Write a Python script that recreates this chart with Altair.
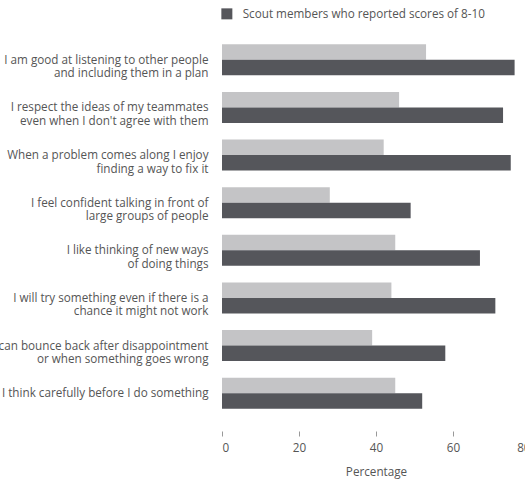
import altair as alt
import pandas as pd

# Survey statements, each split over up to two label lines ("|" separates lines)
statements = [
    "I am good at listening to other people|and including them in a plan",
    "I respect the ideas of my teammates|even when I don't agree with them",
    "When a problem comes along I enjoy|finding a way to fix it",
    "I feel confident talking in front of|large groups of people",
    "I like thinking of new ways|of doing things",
    "I will try something even if there is a|chance it might not work",
    "I can bounce back after disappointment|or when something goes wrong",
    "I think carefully before I do something",
]

series_names = [
    "Non-members who reported scores of 8-10",
    "Scout members who reported scores of 8-10",
]
non_members = [53, 46, 42, 28, 45, 44, 39, 45]
scout_members = [76, 73, 75, 49, 67, 71, 58, 52]

x_ticks = [0, 20, 40, 60, 80]

rows = []
for s, a, b in zip(statements, non_members, scout_members):
    rows.append({"statement": s, "group": series_names[0], "pct": a})
    rows.append({"statement": s, "group": series_names[1], "pct": b})
df = pd.DataFrame(rows)

FONT = "Open Sans"
FS = 11.7
TEXT = "#555555"

chart = (
    alt.Chart(df)
    .mark_bar()
    .encode(
        x=alt.X(
            "pct:Q",
            scale=alt.Scale(domain=[0, 80], nice=False),
            axis=alt.Axis(
                title="Percentage",
                values=x_ticks,
                domain=False,
                grid=False,
                offset=14,
                tickSize=5,
                tickColor="#999999",
                labelPadding=6,
                labelFontSize=FS,
                labelColor=TEXT,
                labelFont=FONT,
                titleFont=FONT,
                titleFontSize=FS,
                titleFontWeight="normal",
                titleColor=TEXT,
                titlePadding=13,
            ),
        ),
        y=alt.Y(
            "statement:N",
            sort=statements,
            scale=alt.Scale(paddingInner=0.35, paddingOuter=0.175),
            axis=alt.Axis(
                title=None,
                domain=False,
                ticks=False,
                labelPadding=14,
                labelLimit=0,
                labelFontSize=FS,
                labelColor=TEXT,
                labelFont=FONT,
                labelLineHeight=13.5,
                labelExpr="split(datum.label, '|')",
            ),
        ),
        yOffset=alt.YOffset("group:N", sort=series_names),
        color=alt.Color(
            "group:N",
            sort=series_names,
            scale=alt.Scale(domain=series_names, range=["#c4c4c6", "#55565b"]),
            legend=alt.Legend(
                title=None,
                values=[series_names[1]],
                orient="none",
                legendX=-1,
                legendY=-28,
                symbolType="square",
                symbolSize=121,
                symbolStrokeWidth=0,
                labelFontSize=FS,
                labelColor=TEXT,
                labelFont=FONT,
                labelOffset=10,
                labelLimit=0,
                padding=0,
            ),
        ),
    )
    .properties(
        width=308,
        height=381,
        autosize=alt.AutoSizeParams(type="none"),
        padding={"left": 222, "top": 36, "right": -5, "bottom": 71},
    )
    .configure_view(stroke=None)
)

chart.save("out.html", embed_options={"renderer": "svg", "actions": False})
